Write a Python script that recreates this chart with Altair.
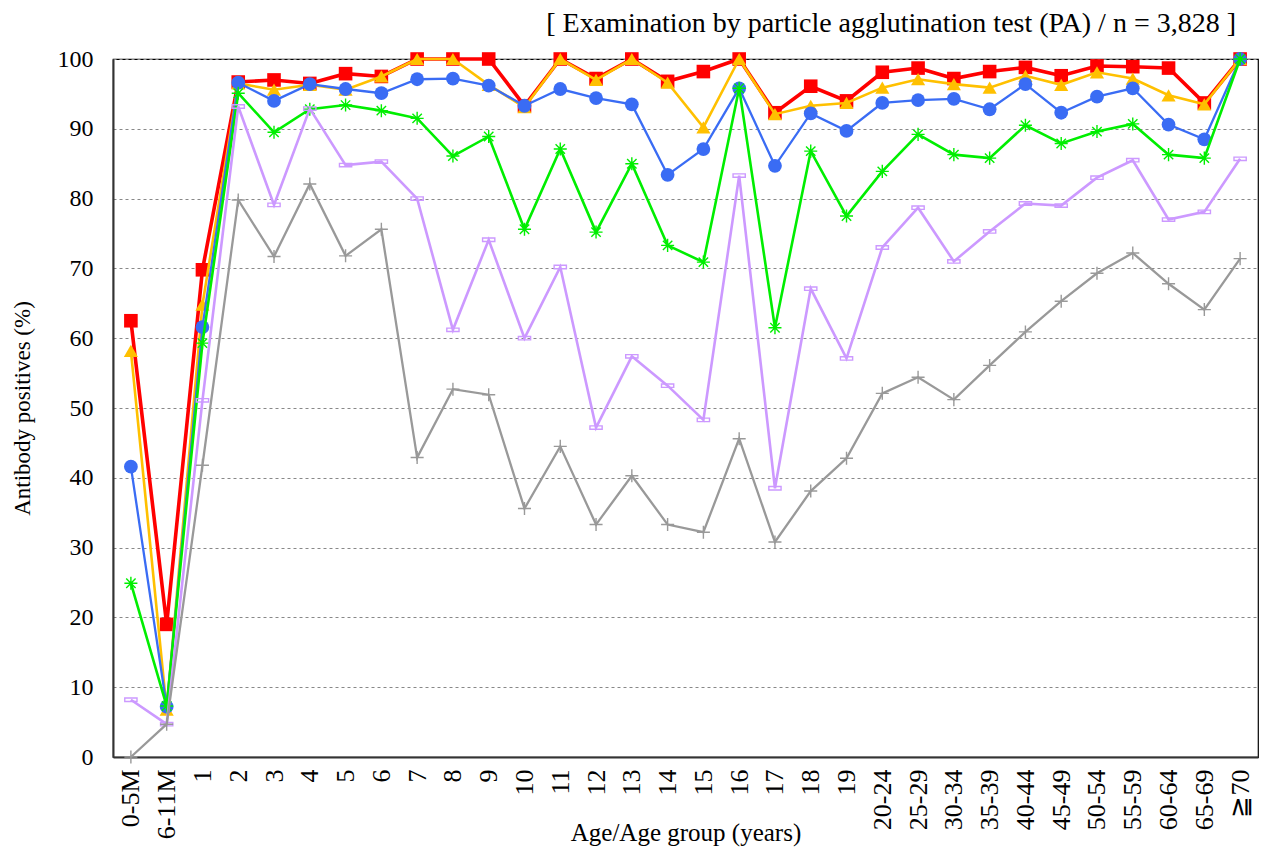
import altair as alt
import pandas as pd

categories = ["0-5M", "6-11M", "1", "2", "3", "4", "5", "6", "7", "8", "9",
              "10", "11", "12", "13", "14", "15", "16", "17", "18", "19",
              "20-24", "25-29", "30-34", "35-39", "40-44", "45-49", "50-54",
              "55-59", "60-64", "65-69", "≧70"]

red_vals = [62.5, 19.0, 69.8, 96.7, 97.0, 96.5, 97.9, 97.5, 100, 100, 100,
            93.3, 100, 97.2, 100, 96.8, 98.2, 100, 92.3, 96.1, 94.0,
            98.1, 98.7, 97.2, 98.2, 98.8, 97.6, 99.0, 98.9, 98.7, 93.7, 100]
yellow_vals = [58.2, 6.8, 64.8, 96.5, 95.6, 96.3, 95.6, 97.5, 100, 100, 96.3,
               93.1, 100, 97.0, 100, 96.6, 90.2, 100, 92.1, 93.3, 93.7,
               95.9, 97.1, 96.4, 95.9, 97.6, 96.3, 98.1, 97.2, 94.8, 93.5, 100]
blue_vals = [41.6, 7.2, 61.6, 96.6, 94.0, 96.4, 95.7, 95.1, 97.1, 97.2, 96.2,
             93.3, 95.7, 94.4, 93.5, 83.4, 87.1, 95.8, 84.7, 92.2, 89.7,
             93.7, 94.1, 94.3, 92.8, 96.4, 92.3, 94.6, 95.8, 90.6, 88.5, 100]
green_vals = [24.9, 7.3, 59.3, 95.1, 89.5, 92.8, 93.4, 92.6, 91.5, 86.1, 88.9,
              75.6, 87.1, 75.2, 85.0, 73.3, 70.9, 95.8, 61.5, 86.8, 77.5,
              83.9, 89.2, 86.3, 85.8, 90.5, 87.9, 89.6, 90.7, 86.3, 85.8, 100]
lavender_vals = [8.2, 4.7, 51.1, 93.2, 79.1, 92.9, 84.8, 85.3, 80.0, 61.2, 74.1,
                 60.0, 70.2, 47.2, 57.4, 53.2, 48.3, 83.3, 38.5, 67.1, 57.1,
                 73.0, 78.7, 71.0, 75.3, 79.3, 79.0, 83.0, 85.5, 77.0, 78.1, 85.7]
gray_vals = [0.0, 4.7, 41.8, 79.8, 71.7, 82.1, 71.8, 75.6, 42.9, 52.7, 51.9,
             35.6, 44.5, 33.3, 40.3, 33.3, 32.2, 45.6, 30.8, 38.1, 42.8,
             52.1, 54.4, 51.2, 56.1, 60.9, 65.3, 69.3, 72.2, 67.8, 64.1, 71.4]

FONT = "Liberation Serif"
ASTERISK = "M-1,0L1,0M0,-1L0,1M-0.72,-0.72L0.72,0.72M-0.72,0.72L0.72,-0.72"
PLUS = "M-1,0L1,0M0,-1L0,1"
BOX = "M-1,-0.28L1,-0.28L1,0.28L-1,0.28Z"

# (values, color, shape, filled, line width, marker size, marker stroke)
styles = [
    (red_vals, "#ff0000", "square", True, 3.6, 185, 0),
    (yellow_vals, "#ffc000", "triangle-up", True, 2.6, 200, 0),
    (blue_vals, "#3a6cf4", "circle", True, 2.3, 190, 0),
    (green_vals, "#00ee00", ASTERISK, False, 2.6, 170, 1.4),
    (lavender_vals, "#cc99ff", BOX, False, 2.6, 150, 1.4),
    (gray_vals, "#999999", PLUS, False, 2.3, 170, 1.4),
]

x_axis = alt.Axis(labelAngle=-90, labelFont=FONT, labelFontSize=26, labelColor="black",
                  labelPadding=12, labelOverlap=False, ticks=False, grid=False,
                  domainColor="#333333", domainWidth=2,
                  title="Age/Age group (years)", titleFont=FONT, titleFontSize=25,
                  titleFontWeight="normal", titleColor="black",
                  titleY=83, titleBaseline="alphabetic")
y_axis = alt.Axis(values=list(range(0, 101, 10)), labelFont=FONT, labelFontSize=24,
                  labelColor="black", labelPadding=20, ticks=False,
                  grid=True, gridDash=[3, 3], gridColor="#888888", gridWidth=1,
                  domainColor="#333333", domainWidth=2,
                  title="Antibody positives  (%)", titleFont=FONT, titleFontSize=23,
                  titleFontWeight="normal", titleColor="black",
                  titleX=-91, titleY=349, titleAlign="center", titleBaseline="middle")

layers = []
for vals, color, shape, filled, lw, size, sw in styles:
    df = pd.DataFrame({"age": categories, "value": vals})
    base = alt.Chart(df).encode(
        x=alt.X("age:O", sort=categories,
                scale=alt.Scale(type="point", domain=categories, padding=0.5),
                axis=x_axis),
        y=alt.Y("value:Q", scale=alt.Scale(domain=[0, 100], nice=False), axis=y_axis),
    )
    layers.append(base.mark_line(color=color, strokeWidth=lw))
    if filled:
        layers.append(base.mark_point(shape=shape, filled=True, color=color,
                                      size=size, opacity=1))
    else:
        layers.append(base.mark_point(shape=shape, filled=False, color=color,
                                      size=size, opacity=1, strokeWidth=sw))

chart = alt.layer(*layers).properties(
    width=1145, height=698,
    padding={"left": 105, "top": 51, "right": 2, "bottom": 92},
    autosize=alt.AutoSizeParams(type="none"),
    title=alt.Title("[ Examination by particle agglutination test (PA)  / n = 3,828 ]",
                    anchor="end", font=FONT, fontSize=28, fontWeight="normal",
                    color="black", dx=-22, offset=9),
).configure_view(stroke="black", strokeWidth=1.2)

chart.save("out.html", embed_options={"renderer": "svg", "actions": False})
